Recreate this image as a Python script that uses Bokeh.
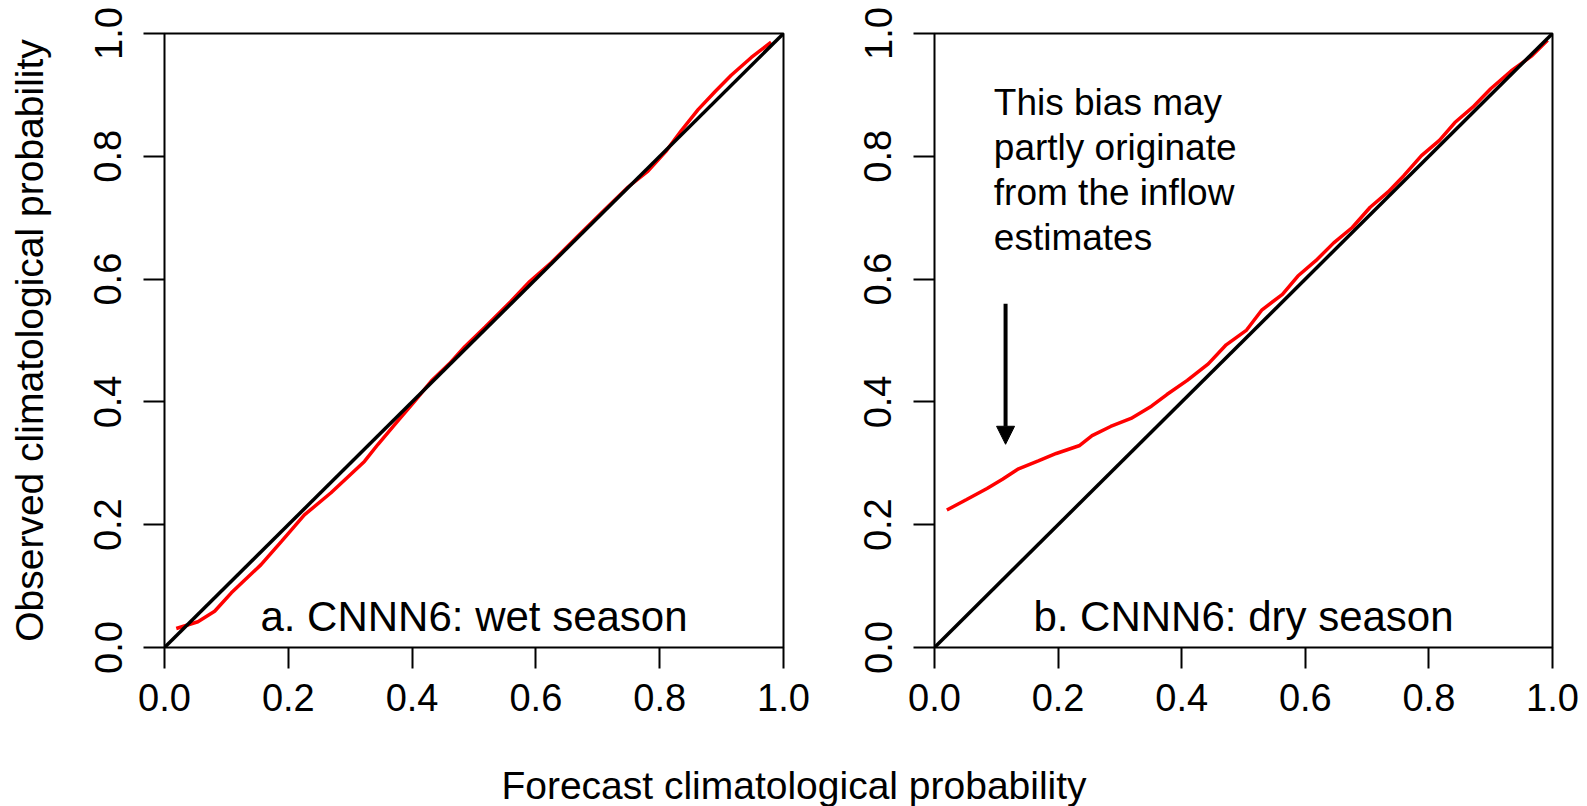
import math
from bokeh.plotting import figure
from bokeh.layouts import column, row
from bokeh.models import Range1d, FixedTicker, NumeralTickFormatter, Arrow, NormalHead
from bokeh.embed import file_html
from bokeh.resources import INLINE
from bokeh.core.properties import value

# ---------------- data ----------------
ticks = [0.0, 0.2, 0.4, 0.6, 0.8, 1.0]
tick_labels = ["0.0", "0.2", "0.4", "0.6", "0.8", "1.0"]

diag_x = [0.0, 1.0]
diag_y = [0.0, 1.0]

wet_x = [0.019, 0.054, 0.081, 0.108, 0.156, 0.189, 0.226, 0.269, 0.323, 0.345,
         0.377, 0.404, 0.431, 0.46, 0.485, 0.518, 0.559, 0.59, 0.625, 0.666,
         0.707, 0.749, 0.781, 0.81, 0.835, 0.862, 0.89, 0.9155, 0.948, 0.98]
wet_y = [0.031, 0.042, 0.059, 0.089, 0.135, 0.173, 0.216, 0.252, 0.303, 0.331,
         0.369, 0.401, 0.434, 0.462, 0.49, 0.522, 0.563, 0.596, 0.627, 0.668,
         0.709, 0.75, 0.776, 0.808, 0.842, 0.876, 0.906, 0.932, 0.961, 0.986]

dry_x = [0.02, 0.052, 0.085, 0.11, 0.136, 0.168, 0.197, 0.235, 0.255, 0.285,
         0.318, 0.351, 0.376, 0.409, 0.443, 0.472, 0.505, 0.53, 0.563, 0.588,
         0.617, 0.646, 0.676, 0.705, 0.734, 0.759, 0.788, 0.817, 0.842, 0.871,
         0.9, 0.933, 0.967, 0.992]
dry_y = [0.224, 0.241, 0.259, 0.274, 0.291, 0.304, 0.316, 0.329, 0.345, 0.36,
         0.373, 0.393, 0.412, 0.435, 0.462, 0.493, 0.517, 0.55, 0.575, 0.605,
         0.63, 0.659, 0.684, 0.717, 0.742, 0.768, 0.801, 0.826, 0.855, 0.88,
         0.91, 0.939, 0.964, 0.989]

panel_titles = ["a. CNNN6: wet season", "b. CNNN6: dry season"]
note_lines = ["This bias may", "partly originate", "from the inflow", "estimates"]
x_title = "Forecast climatological probability"
y_title = "Observed climatological probability"

# ---------------- styling ----------------
FONT = "Liberation Sans"


def make_panel(xs, ys, title, width, border_left, border_right, ylabel):
    p = figure(width=width, height=738,
               x_range=Range1d(0, 1), y_range=Range1d(0, 1),
               output_backend="svg", toolbar_location=None,
               min_border_left=border_left, min_border_right=border_right,
               min_border_top=33, min_border_bottom=91)
    p.background_fill_color = "white"
    p.border_fill_color = "white"
    p.outline_line_color = "black"
    p.outline_line_width = 2
    p.outline_line_alpha = 1.0
    p.grid.visible = False

    for ax in (p.xaxis[0], p.yaxis[0]):
        ax.ticker = FixedTicker(ticks=ticks)
        ax.formatter = NumeralTickFormatter(format="0.0")
        ax.major_label_overrides = dict(zip(ticks, tick_labels))
        ax.axis_line_color = None
        ax.major_tick_out = 21
        ax.major_tick_in = 0
        ax.major_tick_line_width = 2
        ax.major_tick_line_color = "black"
        ax.minor_tick_line_color = None
        ax.major_label_text_font = FONT
        ax.major_label_text_font_size = "38px"
        ax.major_label_text_color = "black"
        ax.axis_label_text_font = FONT
        ax.axis_label_text_font_size = "39px"
        ax.axis_label_text_font_style = "normal"
        ax.axis_label_text_color = "black"
    p.xaxis.major_label_standoff = 15
    p.yaxis.major_label_standoff = 22
    p.yaxis.major_label_orientation = "parallel"
    if ylabel:
        p.yaxis.axis_label = ylabel
        p.yaxis.axis_label_standoff = 41

    p.line(xs, ys, line_color="#ff0000", line_width=3.5)
    p.line(diag_x, diag_y, line_color="black", line_width=3.5)
    p.text(x=[0.5], y=[0.051], text=[title], text_align="center",
           text_baseline="alphabetic", text_font=value(FONT),
           text_font_size="42px", text_color="black")
    return p


p1 = make_panel(wet_x, wet_y, panel_titles[0], 810, 164, 27, y_title)
p2 = make_panel(dry_x, dry_y, panel_titles[1], 777, 124, 35, None)

# annotation in panel b
note_y = [0.887 - 0.073 * i for i in range(len(note_lines))]
p2.text(x=[0.096] * len(note_lines), y=note_y, text=note_lines,
        text_align="left", text_baseline="alphabetic",
        text_font=value(FONT), text_font_size="37px", text_color="black")
p2.add_layout(Arrow(end=NormalHead(size=18, fill_color="black",
                                   line_color="black", line_width=1),
                    x_start=0.115, y_start=0.56, x_end=0.115, y_end=0.331,
                    line_color="black", line_width=4))

# shared x-axis title
p3 = figure(width=1587, height=68, x_range=Range1d(0, 1), y_range=Range1d(0, 1),
            output_backend="svg", toolbar_location=None, min_border=0)
p3.axis.visible = False
p3.grid.visible = False
p3.outline_line_color = None
p3.background_fill_color = "white"
p3.border_fill_color = "white"
p3.text(x=[0.5], y=[0.0], text=[x_title], text_align="center",
        text_baseline="bottom", text_font=value(FONT),
        text_font_size="39px", text_color="black")

layout = column(row(p1, p2), p3)
open("out.html", "w").write(file_html(layout, INLINE))
